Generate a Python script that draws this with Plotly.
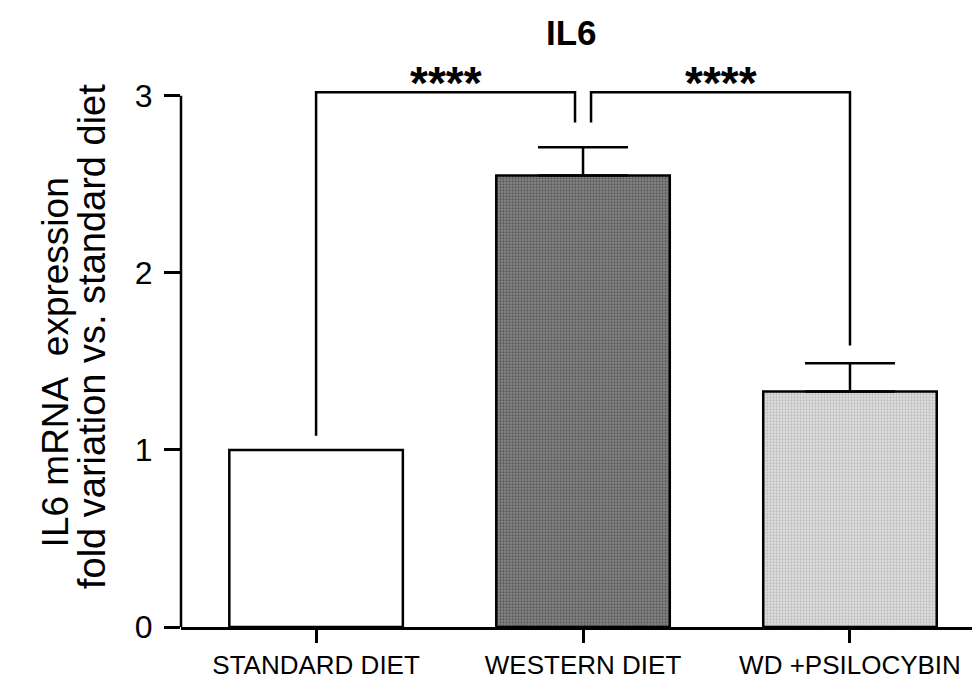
import plotly.graph_objects as go

# ---- data ----
categories = ["STANDARD DIET", "WESTERN DIET", "WD +PSILOCYBIN"]
means = [1.0, 2.55, 1.33]
sem = [0.0, 0.16, 0.16]
comparisons = [(0, 1, "****"), (1, 2, "****")]
y_ticks = [0, 1, 2, 3]
title_text = "IL6"
ylabel_lines = ["IL6 mRNA\u00a0\u00a0expression", "fold variation vs. standard diet"]

# ---- style ----
REG = "Liberation Sans, Arial, sans-serif"
LW = 2.5
fills = [
    dict(color="white", pattern=None),
    dict(color="#6a6a6a", pattern=dict(shape=".", fgcolor="#2a2a2a", bgcolor="#888888", size=3, solidity=0.45)),
    dict(color="#cfcfcf", pattern=dict(shape=".", fgcolor="#999999", bgcolor="#e0e0e0", size=3, solidity=0.45)),
]

x_pos = list(range(len(categories)))
fig = go.Figure()

for i, cat in enumerate(categories):
    marker = dict(color=fills[i]["color"], line=dict(color="black", width=LW))
    if fills[i]["pattern"]:
        marker["pattern"] = fills[i]["pattern"]
    fig.add_trace(go.Bar(
        x=[x_pos[i]], y=[means[i]], width=0.65, marker=marker,
        error_y=dict(type="data", symmetric=False, array=[sem[i]], arrayminus=[0],
                     visible=sem[i] > 0, color="black", thickness=LW, width=45),
        showlegend=False, hoverinfo="skip",
    ))

# significance brackets
y_top = max(y_ticks) + 0.02
gap = 0.1
offset = 0.03
for a, b, label in comparisons:
    xa = x_pos[a] + (offset if a == 1 else 0)
    xb = x_pos[b] - (offset if b == 1 else 0)
    ya = means[a] + sem[a] + (gap if a != 1 else 0.14) - (0.02 if a == 0 else 0)
    yb = means[b] + sem[b] + (gap if b != 1 else 0.14)
    fig.add_trace(go.Scatter(
        x=[xa, xa, xb, xb], y=[ya, y_top, y_top, yb], mode="lines",
        line=dict(color="black", width=LW), showlegend=False, hoverinfo="skip",
    ))
    fig.add_annotation(x=(xa + xb) / 2, y=y_top, yref="y", xref="x", text=f"<b>{label}</b>",
                       showarrow=False, yanchor="middle", yshift=9,
                       font=dict(family=REG, size=46, color="black"))

# y axis line (stops at top tick)
fig.add_shape(type="line", xref="paper", yref="y", x0=0, x1=0, y0=0, y1=max(y_ticks),
              line=dict(color="black", width=LW))

# y axis title (two lines)
for txt, xs, yp, fs in zip(ylabel_lines, [-126, -89], [0.49, 0.537], [37, 38]):
    fig.add_annotation(xref="paper", yref="paper", x=0, y=yp,
                       xshift=xs, text=txt, textangle=-90, showarrow=False,
                       xanchor="center", yanchor="middle",
                       font=dict(family=REG, size=fs, color="black"))

# chart title
fig.add_annotation(xref="paper", yref="paper", x=0.4845, y=1, yshift=55,
                   xanchor="center", yanchor="middle", showarrow=False,
                   text=f"<b>{title_text}</b>",
                   font=dict(family=REG, size=35, color="black"))

fig.update_layout(
    width=980, height=691,
    margin=dict(l=173, r=0, t=79, b=72),
    plot_bgcolor="white", paper_bgcolor="white",
    xaxis=dict(range=[-0.506, 2.517], tickvals=x_pos, ticktext=categories,
               showline=True, linecolor="black", linewidth=LW, ticks="outside",
               ticklen=13, tickwidth=LW, tickcolor="black", showgrid=False, zeroline=False,
               tickfont=dict(family=REG, size=26, color="black")),
    yaxis=dict(range=[0, 3.05], tickvals=y_ticks, showline=False, ticks="outside",
               ticklen=16, tickwidth=LW, tickcolor="black", showgrid=False, zeroline=False,
               ticklabelstandoff=5,
               tickfont=dict(family=REG, size=32, color="black")),
)

fig.write_html("out.html")
